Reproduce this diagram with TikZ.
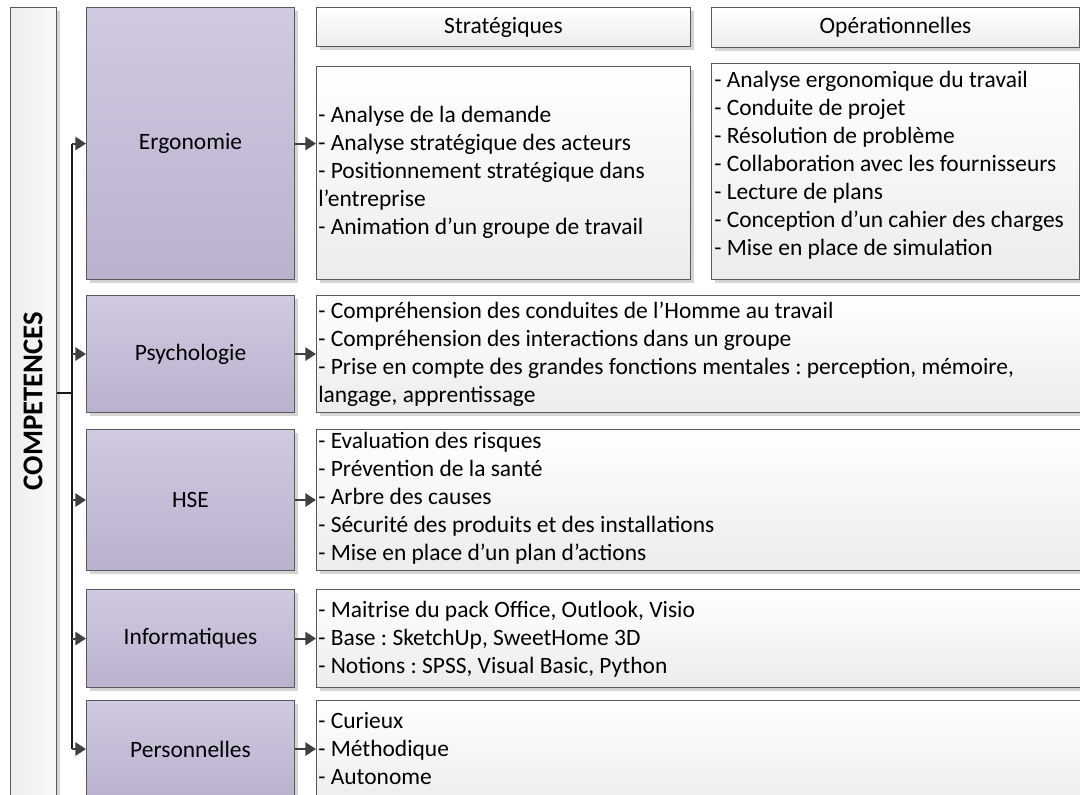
\documentclass[tikz,border=0pt]{standalone}
\usepackage{fontspec}
\setmainfont{Carlito}
\frenchspacing
\usetikzlibrary{arrows.meta,shadows}
\definecolor{bordc}{HTML}{595959}
\definecolor{purtop}{HTML}{D0C9E0}
\definecolor{purbot}{HTML}{BBB1CF}
\definecolor{txtbot}{HTML}{ECECEC}
\definecolor{arrc}{HTML}{404040}
\definecolor{shadc}{HTML}{D4D4D4}
\tikzset{
  base/.style={draw=bordc, line width=0.8pt, inner sep=0pt, anchor=north west,
    drop shadow={shadow xshift=2.4pt, shadow yshift=-2.4pt, fill=shadc, opacity=1}},
  purbox/.style={base, top color=purtop, bottom color=purbot, font=\fontsize{17.6}{21}\selectfont},
  txtbox/.style={base, top color=white, bottom color=txtbot},
  compbox/.style={base, left color=white!93!black, right color=white!98!black},
  lst/.style={anchor=west, align=left, inner sep=0pt, font=\fontsize{17.6}{21}\selectfont},
  hdr/.style={font=\fontsize{17.6}{21}\selectfont},
  arr/.style={draw=arrc, line width=1.5pt, -{Triangle[length=8pt,width=10pt]}},
  trunk/.style={draw=black!90, line width=1.6pt},
}
\begin{document}
\begin{tikzpicture}[x=0.75pt,y=-0.75pt]
\useasboundingbox (0,0) rectangle (1080,794);
% left title box
\node[compbox, minimum width=34.5pt, minimum height=602pt] (comp) at (10,7) {};
\node[rotate=90, font=\bfseries\fontsize{21.5}{25}\selectfont] (comptxt) at (33,401) {COMPETENCES};
% category boxes
\node[purbox, minimum width=156pt, minimum height=204pt] (ergo) at (86,7) {Ergonomie};
\node[purbox, minimum width=156pt, minimum height=87.75pt] (psy) at (86,295) {Psychologie};
\node[purbox, minimum width=156pt, minimum height=105.75pt] (hse) at (86,429) {HSE};
\node[purbox, minimum width=156pt, minimum height=73.5pt] (info) at (86,589) {Informatiques};
\node[purbox, minimum width=156pt, minimum height=72.75pt] (pers) at (86,700) {Personnelles};
% headers
\node[txtbox, minimum width=280.5pt, minimum height=29.25pt, hdr] (hstrat) at (316,7) {Stratégiques};
\node[txtbox, minimum width=276pt, minimum height=30pt, hdr] (hop) at (711,7) {Opérationnelles};
% ergonomie detail boxes
\node[txtbox, minimum width=280.5pt, minimum height=159.75pt] (strat) at (316,66) {};
\node[txtbox, minimum width=276pt, minimum height=162pt] (op) at (711,63) {};
\node[lst] (strattxt) at (318,172.5) {- Analyse de la demande\\- Analyse stratégique des acteurs\\- Positionnement stratégique dans\\l’entreprise\\- Animation d’un groupe de travail};
\node[lst] (optxt) at (714,165) {- Analyse ergonomique du travail\\- Conduite de projet\\- Résolution de problème\\- Collaboration avec les fournisseurs\\- Lecture de plans\\- Conception d’un cahier des charges\\- Mise en place de simulation};
% wide detail boxes
\node[txtbox, minimum width=600pt, minimum height=87.75pt] (tpsy) at (316,295) {};
\node[txtbox, minimum width=600pt, minimum height=105.75pt] (thse) at (316,429) {};
\node[txtbox, minimum width=600pt, minimum height=73.5pt] (tinfo) at (316,589) {};
\node[txtbox, minimum width=600pt, minimum height=80pt] (tpers) at (316,700) {};
\node[lst] (psytxt) at (318,354) {- Compréhension des conduites de l’Homme au travail\\- Compréhension des interactions dans un groupe\\- Prise en compte des grandes fonctions mentales : perception, mémoire,\\langage, apprentissage};
\node[lst] (hsetxt) at (318,498) {- Evaluation des risques\\- Prévention de la santé\\- Arbre des causes\\- Sécurité des produits et des installations\\- Mise en place d’un plan d’actions};
\node[lst] (infotxt) at (318,639) {- Maitrise du pack Office, Outlook, Visio\\- Base : SketchUp, SweetHome 3D\\- Notions : SPSS, Visual Basic, Python};
\node[lst] (perstxt) at (318,748) {- Curieux\\- Méthodique\\- Autonome};
% connectors
\coordinate (j) at (72,393);
\draw[trunk] (comp.east |- j) -- (j);
\draw[trunk] (ergo.west -| j) -- (pers.west -| j);
\draw[arr] (ergo.west -| j) -- (ergo.west);
\draw[arr] (psy.west -| j) -- (psy.west);
\draw[arr] (hse.west -| j) -- (hse.west);
\draw[arr] (info.west -| j) -- (info.west);
\draw[arr] (pers.west -| j) -- (pers.west);
\draw[arr] (ergo.east) -- (strat.west |- ergo.east);
\draw[arr] (psy.east) -- (tpsy.west |- psy.east);
\draw[arr] (hse.east) -- (thse.west |- hse.east);
\draw[arr] (info.east) -- (tinfo.west |- info.east);
\draw[arr] (pers.east) -- (tpers.west |- pers.east);
\end{tikzpicture}
\end{document}
